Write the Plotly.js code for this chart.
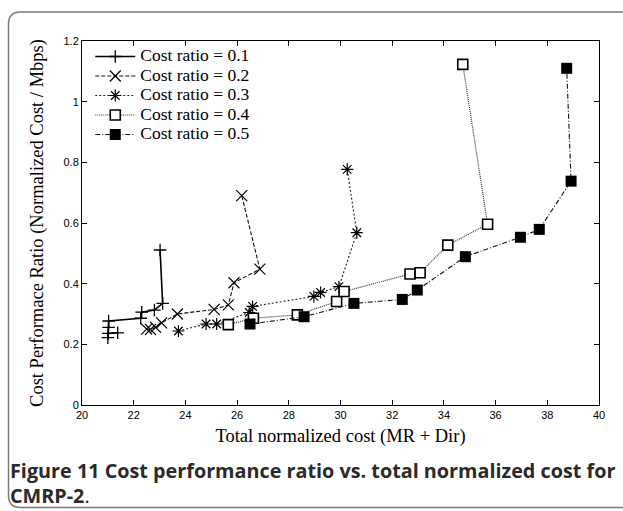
<!DOCTYPE html>
<html>
<head>
<meta charset="utf-8">
<script src="https://cdn.plot.ly/plotly-3.0.1.min.js"></script>
<style>
  html, body { margin: 0; padding: 0; background: #ffffff; }
  #chart { width: 623px; height: 511px; }
</style>
</head>
<body>
<div id="chart"></div>
<script>
// ---- data ----
const seriesNames = ["Cost ratio = 0.1", "Cost ratio = 0.2", "Cost ratio = 0.3", "Cost ratio = 0.4", "Cost ratio = 0.5"];

const r01_x = [21.38, 21.02, 21.00, 21.03, 21.03, 22.27, 22.31, 22.80, 23.12, 23.02];
const r01_y = [0.238, 0.236, 0.222, 0.256, 0.277, 0.286, 0.306, 0.313, 0.335, 0.511];

const r02_x = [22.50, 22.65, 22.85, 23.08, 23.69, 25.11, 25.66, 25.88, 26.88, 26.18];
const r02_y = [0.250, 0.249, 0.256, 0.271, 0.300, 0.315, 0.330, 0.403, 0.448, 0.690];

const r03_x = [23.73, 24.80, 25.21, 26.47, 26.60, 28.97, 29.23, 29.94, 30.63, 30.26];
const r03_y = [0.244, 0.267, 0.267, 0.305, 0.325, 0.358, 0.371, 0.390, 0.568, 0.777];

const r04_x = [25.66, 26.63, 28.33, 29.85, 30.14, 32.69, 33.08, 34.15, 35.69, 34.73];
const r04_y = [0.265, 0.286, 0.297, 0.341, 0.374, 0.432, 0.436, 0.527, 0.596, 1.123];

const r05_x = [26.50, 28.59, 30.52, 32.39, 32.97, 34.83, 36.96, 37.69, 38.92, 38.75];
const r05_y = [0.267, 0.291, 0.335, 0.348, 0.379, 0.489, 0.553, 0.579, 0.738, 1.110];

const xTicks = [20, 22, 24, 26, 28, 30, 32, 34, 36, 38, 40];
const yTicks = [0, 0.2, 0.4, 0.6, 0.8, 1, 1.2];

const xTitle = "Total normalized cost (MR + Dir)";
const yTitle = "Cost Performace Ratio (Normalized Cost / Mbps)";
const captionLine1 = "Figure 11 Cost performance ratio vs. total normalized cost for";
const captionLine2 = "CMRP-2";

// legend label: bigger glyphs, while the legend row height follows legend.font.size
const legendLabel = s => '<span style="font-size:17.5px">' + s + '</span>';

// ---- traces ----
const traces = [
  {
    x: r01_x, y: r01_y, name: legendLabel(seriesNames[0]), type: "scatter", mode: "lines+markers",
    line: { color: "#000", width: 1.6, dash: "solid" },
    marker: { symbol: "cross-thin-open", size: 9, color: "#000", line: { color: "#000", width: 1.3 } }
  },
  {
    x: r02_x, y: r02_y, name: legendLabel(seriesNames[1]), type: "scatter", mode: "lines+markers",
    line: { color: "#111", width: 1.1, dash: "4px,2px" },
    marker: { symbol: "x-thin-open", size: 11, color: "#000", line: { color: "#000", width: 1.2 } }
  },
  {
    x: r03_x, y: r03_y, name: legendLabel(seriesNames[2]), type: "scatter", mode: "lines+markers",
    line: { color: "#222", width: 1.1, dash: "2px,2px" },
    marker: { symbol: "asterisk-open", size: 10, color: "#000", line: { color: "#111", width: 1.2 } }
  },
  {
    x: r04_x, y: r04_y, name: legendLabel(seriesNames[3]), type: "scatter", mode: "lines+markers",
    line: { color: "#333", width: 1.2, dash: "1px,1px" },
    marker: { symbol: "square", size: 10, color: "#ffffff", line: { color: "#000", width: 1.6 } }
  },
  {
    x: r05_x, y: r05_y, name: legendLabel(seriesNames[4]), type: "scatter", mode: "lines+markers",
    line: { color: "#111", width: 1.1, dash: "5px,2px,1px,2px" },
    marker: { symbol: "square", size: 11, color: "#000", line: { color: "#000", width: 0 } }
  }
];

// paper coordinate helpers for the frame (plot area: px 82..599, py 41..405)
const L = 82, R = 599, T = 41, B = 405;
const px = v => (v - L) / (R - L);
const py = v => (B - v) / (B - T);
const fx0 = px(8.5), fx1 = px(20.5), fxr = px(640);
const fy0 = py(12), fy1 = py(24), fyb = py(507.5), fyb1 = py(495.5);
const framePath = `M ${fxr},${fy0} L ${fx1},${fy0} Q ${fx0},${fy0} ${fx0},${fy1} L ${fx0},${fyb1} Q ${fx0},${fyb} ${fx1},${fyb} L ${fxr},${fyb}`;

const serif = "Liberation Serif, Times New Roman, serif";
const sans = "Liberation Sans, Arial, sans-serif";

const layout = {
  width: 623, height: 511,
  margin: { l: 82, r: 24, t: 41, b: 106, pad: 0 },
  paper_bgcolor: "#ffffff",
  plot_bgcolor: "#ffffff",
  showlegend: true,
  legend: {
    x: 0.016, y: 0.998, xanchor: "left", yanchor: "top",
    bgcolor: "rgba(0,0,0,0)", borderwidth: 0,
    font: { family: serif, size: 12.7, color: "#000" },
    tracegroupgap: 0, itemwidth: 40
  },
  xaxis: {
    range: [20, 40], tickvals: xTicks, ticktext: xTicks.map(String),
    showgrid: false, zeroline: false,
    showline: true, linecolor: "#000", linewidth: 1, mirror: "ticks",
    ticks: "inside", ticklen: 5, tickcolor: "#000", tickwidth: 1,
    tickfont: { family: sans, size: 11, color: "#000" },
    title: { text: xTitle, font: { family: serif, size: 18.5, color: "#000" }, standoff: 8 }
  },
  yaxis: {
    range: [0, 1.2], tickvals: yTicks, ticktext: yTicks.map(String),
    showgrid: false, zeroline: false,
    showline: true, linecolor: "#000", linewidth: 1, mirror: "ticks",
    ticks: "inside", ticklen: 5, tickcolor: "#000", tickwidth: 1,
    tickfont: { family: sans, size: 11, color: "#000" },
    title: { text: yTitle, font: { family: serif, size: 18.5, color: "#000" }, standoff: 15 }
  },
  shapes: [
    { type: "path", xref: "paper", yref: "paper", path: framePath,
      line: { color: "#7a7a7a", width: 1.5 }, fillcolor: "rgba(0,0,0,0)", layer: "below" }
  ],
  annotations: [
    { xref: "paper", yref: "paper", x: px(8), y: py(470), xanchor: "left", yanchor: "middle",
      showarrow: false, text: "<b>" + captionLine1 + "</b>",
      font: { family: "Open Sans, Noto Sans, sans-serif", size: 19.8, color: "#2a2a2a" } },
    { xref: "paper", yref: "paper", x: px(8), y: py(495), xanchor: "left", yanchor: "middle",
      showarrow: false, text: "<b>" + captionLine2 + "</b>.",
      font: { family: "Open Sans, Noto Sans, sans-serif", size: 19.8, color: "#2a2a2a" } }
  ]
};

Plotly.newPlot("chart", traces, layout, { displayModeBar: false, staticPlot: true });
</script>
</body>
</html>
